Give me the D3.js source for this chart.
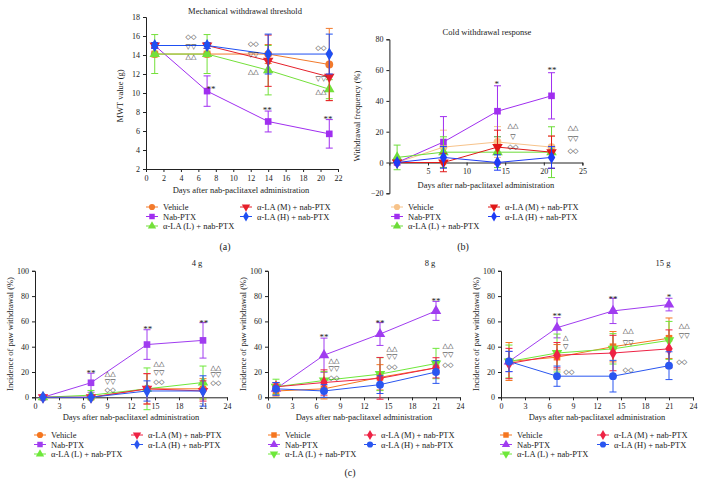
<!DOCTYPE html>
<html>
<head>
<meta charset="utf-8">
<script src="https://cdn.jsdelivr.net/npm/d3@7"></script>
<style>
  body { margin: 0; background: #fff; }
  text { font-family: "Liberation Serif", "DejaVu Serif", serif; fill: #222; }
  .sig { font-family: "DejaVu Sans", sans-serif; }
</style>
</head>
<body>
<div id="chart-area"></div>
<script>
// sampling days and group names
var days = [1, 7, 14, 21];
var groups = ["Vehicle", "Nab-PTX", "\u03b1-LA (L) + nab-PTX", "\u03b1-LA (M) + nab-PTX", "\u03b1-LA (H) + nab-PTX"];

// (a) mechanical withdrawal threshold, g (rows = groups)
var mwtMeans = [[14.1, 14.1, 14.1, 13.0], [15.0, 10.2, 7.0, 5.7], [14.1, 14.1, 12.4, 10.4], [15.0, 15.0, 13.4, 11.7], [15.0, 15.0, 14.1, 14.1]];
var mwtErrors = [[0.3, 0.3, 1.0, 3.8], [0.3, 1.6, 1.1, 1.5], [2.05, 2.05, 2.6, 1.0], [0.2, 0.3, 2.7, 2.5], [0.3, 0.3, 2.1, 2.1]];
var mwtTicksX = d3.range(0, 23, 2);
var mwtTicksY = d3.range(2, 19, 2);
var mwtMarks = [[5.15, 15.9, "\u25c7\u25c7"], [5.15, 14.9, "\u25bd\u25bd"], [5.15, 13.8, "\u25b3\u25b3"],
  [12.3, 15.2, "\u25c7\u25c7"], [12.3, 14.1, "\u25bd\u25bd"], [12.3, 12.3, "\u25b3\u25b3"],
  [20.05, 14.8, "\u25c7\u25c7"], [20.05, 11.5, "\u25bd\u25bd"], [20.05, 10.2, "\u25b3\u25b3"],
  [7.45, 10.65, "**"], [13.9, 8.5, "**"], [20.85, 7.5, "**"]];

// (b) cold withdrawal frequency, %
var coldMeans = [[0, 10, 13.3, 10], [0, 13.3, 33.3, 43.3], [3.3, 6.7, 6.7, 6.7], [0, 0, 10, 6.7], [0, 3.3, 0, 3.3]];
var coldErrors = [[0, 11, 10, 7], [0, 16.5, 16.5, 15], [8, 10, 10, 16.5], [0, 6, 11, 10.5], [0, 7, 5, 7]];
var coldTicksX = [5, 10, 15, 20, 25];
var coldTicksY = [-20, 0, 20, 40, 60, 80];
var coldMarks = [[16.0, 24, "\u25b3\u25b3"], [16.0, 17, "\u25bd"], [16.0, 10.5, "\u25c7\u25c7"],
  [23.8, 22.8, "\u25b3\u25b3"], [23.8, 15.7, "\u25bd\u25bd"], [23.8, 7.9, "\u25c7\u25c7"],
  [13.9, 52.5, "*"], [21.05, 61.5, "**"]];

// (c) incidence of paw withdrawal, % for 4 g, 8 g, 15 g filaments
var paw4Means = [[0, 0, 6.7, 6.7], [0, 11.5, 41.7, 45], [0, 1.7, 6.7, 11.7], [0, 0, 6.7, 5], [0, 0, 5, 5]];
var paw4Errors = [[0, 0, 12, 8], [0, 7.5, 11.7, 14], [0, 3.7, 16.5, 13], [0, 0, 12, 8], [0, 0, 8, 12]];
var paw4Marks = [[9.4, 18.4, "\u25b3\u25b3"], [9.4, 12.1, "\u25bd\u25bd"], [9.4, 5.8, "\u25c7\u25c7"],
  [15.5, 26.3, "\u25b3\u25b3"], [15.5, 19.2, "\u25bd\u25bd"], [15.5, 12.1, "\u25c7\u25c7"],
  [22.6, 23.2, "\u25b3\u25b3"], [22.6, 17.6, "\u25bd\u25bd"], [22.6, 11.3, "\u25c7\u25c7"],
  [7.0, 20.9, "**"], [14.1, 55.6, "**"], [21.1, 60.4, "**"]];

var paw8Means = [[5, 6.7, 15.8, 23.3], [6.7, 33.3, 50, 68.3], [8.3, 13.3, 18.3, 26.7], [8.3, 11.7, 15, 23.3], [6.7, 5, 10, 20]];
var paw8Errors = [[4, 8, 10, 5], [5, 13.5, 9, 7.5], [6, 7, 13, 12], [3, 10, 16.5, 8], [5, 5, 7, 9]];
var paw8Marks = [[8.25, 28.7, "\u25b3\u25b3"], [8.25, 22.4, "\u25bd\u25bd"], [8.25, 16.0, "\u25c7\u25c7"],
  [15.5, 38.2, "\u25b3\u25b3"], [15.5, 31.9, "\u25bd\u25bd"], [15.5, 24.7, "\u25c7\u25c7"],
  [22.5, 40.6, "\u25b3\u25b3"], [22.5, 33.4, "\u25bd\u25bd"], [22.5, 25.5, "\u25c7\u25c7"],
  [7.0, 49.3, "**"], [14.0, 60.4, "**"], [21.0, 77.7, "**"]];

var paw15Means = [[28.3, 31.7, 40, 46.7], [28.3, 55, 68.3, 73.3], [28.3, 35, 38.3, 45], [26.7, 33.3, 35, 38.3], [28.3, 16.7, 16.7, 25]];
var paw15Errors = [[15, 10, 12, 16], [8, 8, 10, 5], [13, 15, 12, 15], [12, 10, 14, 15], [8, 8, 12.5, 11]];
var paw15Marks = [[8.1, 47, "\u25b3"], [8.1, 39.8, "\u25bd"], [8.5, 20, "\u25c7\u25c7"],
  [15.9, 52.5, "\u25b3\u25b3"], [15.9, 43, "\u25bd\u25bd"], [15.9, 21.6, "\u25c7\u25c7"],
  [22.9, 56.4, "\u25b3\u25b3"], [22.9, 48.5, "\u25bd\u25bd"], [22.6, 27.9, "\u25c7\u25c7"],
  [7.0, 65.8, "**"], [14.0, 80, "**"], [21.0, 81, "*"]];
var pawTicksX = d3.range(0, 25, 3);
var pawTicksY = d3.range(0, 101, 20);

var shapesA = [d3.symbolCircle, d3.symbolSquare, d3.symbolTriangle, "down", d3.symbolDiamond];
var shapesC = [d3.symbolSquare, d3.symbolTriangle, "down", d3.symbolDiamond, d3.symbolCircle];
var colorsA = ["#f27a2c", "#a02ef0", "#74e03a", "#e5202a", "#1e4ff2"];
var colorsB = ["#f7c38a", "#a02ef0", "#6cdc38", "#e01818", "#1e3cf5"];
var colorsC = ["#f5761f", "#a03cf0", "#6ee83a", "#ee2244", "#2a56f0"];

var svg = d3.select("#chart-area").append("svg")
  .attr("width", 703)
  .attr("height", 496);

function symbolPath(shape, size) {
  if (shape === "down") {
    return d3.symbol(d3.symbolTriangle, size)();
  }
  return d3.symbol(shape, size)();
}

function drawPanel(p) {
  var x = d3.scaleLinear().domain(p.xDomain).range([p.left, p.right]);
  var y = d3.scaleLinear().domain(p.yDomain).range([p.bottom, p.top]);
  var g = svg.append("g");

  // axes
  var yAxis = g.append("g")
    .attr("transform", "translate(" + p.left + ",0)")
    .call(d3.axisLeft(y).tickValues(p.yTicks).tickSize(3).tickPadding(3).tickFormat(function(d) {
      return d < 0 ? "\u221220" : d;
    }));
  var xAxisY = p.xAxisAt !== undefined ? y(p.xAxisAt) : p.bottom;
  var xAxis = g.append("g")
    .attr("transform", "translate(0," + xAxisY + ")")
    .call(d3.axisBottom(x).tickValues(p.xTicks).tickSize(3).tickPadding(3));
  [xAxis, yAxis].forEach(function(a) {
    a.selectAll("path").attr("stroke", "#222").attr("stroke-width", 1);
    a.selectAll("line").attr("stroke", "#222");
    a.selectAll("text").style("font-family", "Liberation Serif").style("font-size", "8px").attr("fill", "#222");
  });

  // title and labels
  g.append("text").attr("x", p.titleX).attr("y", p.titleY).attr("text-anchor", "middle")
    .style("font-size", "8.5px").text(p.title);
  g.append("text").attr("x", (p.left + p.right) / 2 + (p.xLabelShift || 0)).attr("y", p.xLabelY)
    .attr("text-anchor", "middle").style("font-size", "8.5px")
    .text("Days after nab-paclitaxel administration");
  g.append("text")
    .attr("transform", "translate(" + p.yLabelX + "," + p.yLabelY + ") rotate(-90)")
    .attr("text-anchor", "middle").style("font-size", "8.5px").text(p.yLabel);

  // series, drawn in group order so later groups sit on top
  groups.forEach(function(name, i) {
    var col = p.colors[i];
    var pts = days.map(function(d, j) { return { d: d, v: p.means[i][j], e: p.errors[i][j] }; });
    var line = d3.line().x(function(d) { return x(d.d); }).y(function(d) { return y(d.v); });
    g.append("path").datum(pts).attr("d", line)
      .attr("fill", "none").attr("stroke", col).attr("stroke-width", 1);
    var eb = g.selectAll(null).data(pts).enter().append("g").attr("stroke", col).attr("stroke-width", 1);
    eb.append("line")
      .attr("x1", function(d) { return x(d.d); }).attr("x2", function(d) { return x(d.d); })
      .attr("y1", function(d) { return y(d.v - d.e); }).attr("y2", function(d) { return y(d.v + d.e); });
    eb.append("line")
      .attr("x1", function(d) { return x(d.d) - 3.5; }).attr("x2", function(d) { return x(d.d) + 3.5; })
      .attr("y1", function(d) { return y(d.v + d.e); }).attr("y2", function(d) { return y(d.v + d.e); });
    eb.append("line")
      .attr("x1", function(d) { return x(d.d) - 3.5; }).attr("x2", function(d) { return x(d.d) + 3.5; })
      .attr("y1", function(d) { return y(d.v - d.e); }).attr("y2", function(d) { return y(d.v - d.e); });
    var shape = p.shapes[i];
    g.selectAll(null).data(pts).enter().append("path")
      .attr("d", symbolPath(shape, shape === d3.symbolSquare ? 44 : 48))
      .attr("transform", function(d) {
        return "translate(" + x(d.d) + "," + y(d.v) + ")" + (shape === "down" ? " rotate(180)" : "");
      })
      .attr("fill", col);
  });

  // significance marks
  g.selectAll(null).data(p.marks).enter().append("text")
    .attr("class", function(d) { return d[2].indexOf("*") >= 0 ? "" : "sig"; })
    .attr("x", function(d) { return x(d[0]); })
    .attr("y", function(d) { return y(d[1]); })
    .attr("dy", function(d) { return d[2].indexOf("*") >= 0 ? "0.6em" : "0.35em"; })
    .attr("text-anchor", "middle")
    .style("font-size", function(d) { return d[2].indexOf("*") >= 0 ? "9px" : "7px"; })
    .text(function(d) { return d[2]; });

  // legend: two columns
  groups.forEach(function(name, i) {
    var col = i < 3 ? 0 : 1;
    var row = i < 3 ? i : i - 3;
    var lx = col === 0 ? p.legX1 : p.legX2;
    var ly = p.legY + row * 9.5;
    g.append("line").attr("x1", lx - 6).attr("x2", lx + 6).attr("y1", ly).attr("y2", ly)
      .attr("stroke", p.colors[i]).attr("stroke-width", 1);
    g.append("path").attr("d", symbolPath(p.shapes[i], 30))
      .attr("transform", "translate(" + lx + "," + ly + ")" + (p.shapes[i] === "down" ? " rotate(180)" : ""))
      .attr("fill", p.colors[i]);
    g.append("text").attr("x", lx + 11).attr("y", ly + 3).style("font-size", "8.5px").text(name);
  });
}

drawPanel({
  left: 146, right: 338, top: 17, bottom: 169,
  xDomain: [0, 22], yDomain: [2, 18], xTicks: mwtTicksX, yTicks: mwtTicksY,
  means: mwtMeans, errors: mwtErrors, colors: colorsA, shapes: shapesA, marks: mwtMarks,
  title: "Mechanical withdrawal threshold", titleX: 245, titleY: 14,
  xLabelY: 193, xLabelShift: -1, yLabel: "MWT value (g)", yLabelX: 123, yLabelY: 96,
  legX1: 152, legX2: 246, legY: 207
});

drawPanel({
  left: 389.4, right: 582.4, top: 39.3, bottom: 193.3, xAxisAt: 0,
  xDomain: [0, 25], yDomain: [-20, 80], xTicks: coldTicksX, yTicks: coldTicksY,
  means: coldMeans, errors: coldErrors, colors: colorsB, shapes: shapesA, marks: coldMarks,
  title: "Cold withdrawal response", titleX: 487, titleY: 35,
  xLabelY: 188, xLabelShift: 0, yLabel: "Withdrawal frequency (%)", yLabelX: 360, yLabelY: 116,
  legX1: 397, legX2: 494, legY: 207
});

var pawPanels = [
  { left: 35, means: paw4Means, errors: paw4Errors, marks: paw4Marks, shapes: shapesA, title: "4 g", legX1: 40, legX2: 137 },
  { left: 268, means: paw8Means, errors: paw8Errors, marks: paw8Marks, shapes: shapesC, title: "8 g", legX1: 274, legX2: 370 },
  { left: 501, means: paw15Means, errors: paw15Errors, marks: paw15Marks, shapes: shapesC, title: "15 g", legX1: 506, legX2: 603 }
];
pawPanels.forEach(function(pp) {
  drawPanel({
    left: pp.left, right: pp.left + 192, top: 270.8, bottom: 397.3,
    xDomain: [0, 24], yDomain: [0, 100], xTicks: pawTicksX, yTicks: pawTicksY,
    means: pp.means, errors: pp.errors, colors: colorsC, shapes: pp.shapes, marks: pp.marks,
    title: pp.title, titleX: pp.left + 162, titleY: 266,
    xLabelY: 420, xLabelShift: 0, yLabel: "Incidence of paw withdrawal (%)", yLabelX: pp.left - 22, yLabelY: 334,
    legX1: pp.legX1, legX2: pp.legX2, legY: 435
  });
});

// panel letters
svg.append("text").attr("x", 225).attr("y", 250).attr("text-anchor", "middle").style("font-size", "10px").text("(a)");
svg.append("text").attr("x", 463).attr("y", 250).attr("text-anchor", "middle").style("font-size", "10px").text("(b)");
svg.append("text").attr("x", 350).attr("y", 476).attr("text-anchor", "middle").style("font-size", "10px").text("(c)");
</script>
</body>
</html>
